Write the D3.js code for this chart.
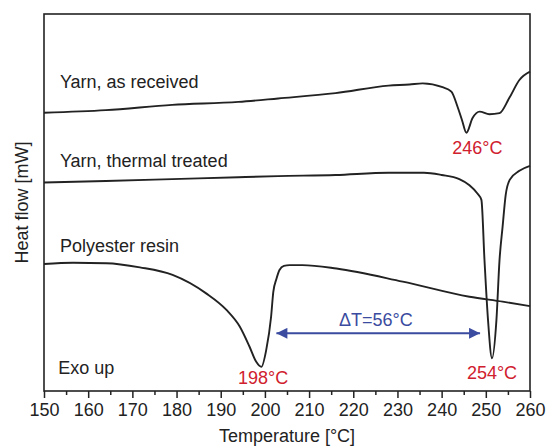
<!DOCTYPE html>
<html>
<head>
<meta charset="utf-8">
<script src="https://cdn.jsdelivr.net/npm/d3@7"></script>
<style>
  body { margin: 0; background: #fff; }
  svg text { font-family: "Liberation Sans", Arial, Helvetica, sans-serif; }
</style>
</head>
<body>
<svg id="chart" width="547" height="448"></svg>
<script>
// ---- data (heat flow in arbitrary offset units) ----
const tempReceived = [150, 164, 179, 194, 203, 216, 228, 232.7, 235.7, 240.2, 242.2, 243.6, 244.6, 245.6, 247, 248.6, 250.8, 253.1, 255.3, 257.6, 260];
const flowReceived = [73.8, 74.5, 75.9, 76.7, 77.6, 79.0, 81.0, 81.3, 81.6, 80.6, 79.4, 75.4, 71.9, 68.5, 72.4, 74.1, 73.4, 73.7, 77.7, 82.5, 84.7];

const tempTreated = [150, 164, 179, 194, 203, 216, 228, 236, 240, 244, 246.3, 248.1, 249, 249.7, 250.5, 251.4, 252.4, 253.1, 253.8, 254.5, 255.4, 257.6, 260];
const flowTreated = [55.3, 55.7, 56.2, 56.7, 57.0, 57.3, 57.9, 57.9, 57.3, 56.2, 54.6, 52.4, 50.7, 34.7, 18.8, 8.7, 18.8, 34.7, 43.6, 52.0, 56.0, 58.4, 59.7];

const tempResin = [150, 156.6, 164.1, 171.7, 179.1, 186.7, 191.3, 194.3, 196.5, 198, 199.2, 200.3, 201.4, 201.9, 202.6, 203.3, 204.3, 205.6, 208.5, 216.2, 231.2, 246.3, 253.8, 260];
const flowResin = [33.7, 34.0, 33.9, 32.8, 30.8, 25.9, 21.5, 17.1, 11.8, 7.8, 6.4, 10.9, 19.7, 26.3, 29.7, 32.1, 33.2, 33.4, 33.4, 32.5, 29.0, 25.0, 23.7, 22.5];

const xTicks = [150, 160, 170, 180, 190, 200, 210, 220, 230, 240, 250, 260];
const xMinorTicks = [155, 165, 175, 185, 195, 205, 215, 225, 235, 245, 255];

const seriesNames = ["Yarn, as received", "Yarn, thermal treated", "Polyester resin", "Exo up"];
const seriesNameAnchors = [[153.6, 80.3], [153.6, 59.5], [153.6, 36.9], [153.2, 4.4]];

const peakLabels = ["246°C", "198°C", "254°C"];
const peakAnchors = [[248.1, 62.8], [199.6, 1.8], [251.4, 3.1]];

const deltaLabel = "ΔT=56°C";
const deltaAnchor = [225.1, 17.2];
const deltaArrow = [202.6, 248.7, 15.3]; // from T, to T, level

// ---- layout ----
const margin = { left: 44, right: 530, top: 14, bottom: 391 };
const fontsize = 18;
const ink = "#222";
const red = "#d0202e";
const blue = "#3a4ba0";

const svg = d3.select("#chart");

const xScale = d3.scaleLinear().domain([150, 260]).range([margin.left, margin.right]);
const yScale = d3.scaleLinear().domain([0, 100]).range([margin.bottom, margin.top]);

// minor ticks
svg.append("g")
  .attr("transform", `translate(0,${margin.bottom})`)
  .call(d3.axisBottom(xScale).tickValues(xMinorTicks).tickSize(4).tickFormat(""))
  .call(g => g.select(".domain").remove())
  .selectAll("line").attr("stroke", ink).attr("stroke-width", 1.5);

// major ticks + labels
const xAxisG = svg.append("g")
  .attr("transform", `translate(0,${margin.bottom})`)
  .call(d3.axisBottom(xScale).tickValues(xTicks).tickSize(7).tickPadding(5).tickFormat(d3.format("d")));
xAxisG.select(".domain").remove();
xAxisG.selectAll("line").attr("stroke", ink).attr("stroke-width", 1.5);
xAxisG.selectAll("text")
  .attr("fill", ink)
  .style("font-size", fontsize + "px")
  .style("font-family", "'Liberation Sans', Arial, sans-serif");

// frame
svg.append("rect")
  .attr("x", margin.left).attr("y", margin.top)
  .attr("width", margin.right - margin.left).attr("height", margin.bottom - margin.top)
  .attr("fill", "none").attr("stroke", ink).attr("stroke-width", 1.6);

// curves
const line = d3.line()
  .x(d => xScale(d[0]))
  .y(d => yScale(d[1]))
  .curve(d3.curveMonotoneX);

const curves = [
  d3.zip(tempReceived, flowReceived),
  d3.zip(tempTreated, flowTreated),
  d3.zip(tempResin, flowResin)
];

svg.append("g").selectAll("path")
  .data(curves)
  .enter().append("path")
  .attr("d", line)
  .attr("fill", "none")
  .attr("stroke", ink)
  .attr("stroke-width", 1.9)
  .attr("stroke-linejoin", "round");

// series names
svg.append("g").selectAll("text")
  .data(seriesNames)
  .enter().append("text")
  .attr("x", (d, i) => xScale(seriesNameAnchors[i][0]))
  .attr("y", (d, i) => yScale(seriesNameAnchors[i][1]))
  .attr("fill", ink)
  .style("font-size", fontsize + "px")
  .text(d => d);

// peak temperatures
svg.append("g").selectAll("text")
  .data(peakLabels)
  .enter().append("text")
  .attr("x", (d, i) => xScale(peakAnchors[i][0]))
  .attr("y", (d, i) => yScale(peakAnchors[i][1]))
  .attr("text-anchor", "middle")
  .attr("fill", red)
  .style("font-size", fontsize + "px")
  .text(d => d);

// delta T arrow
svg.append("defs").append("marker")
  .attr("id", "head")
  .attr("viewBox", "0 0 10 10")
  .attr("refX", 10).attr("refY", 5)
  .attr("markerWidth", 17).attr("markerHeight", 11)
  .attr("markerUnits", "userSpaceOnUse")
  .attr("orient", "auto-start-reverse")
  .append("path")
  .attr("d", "M0,0 L10,5 L0,10 Z")
  .attr("fill", blue);

svg.append("line")
  .attr("x1", xScale(deltaArrow[0])).attr("x2", xScale(deltaArrow[1]))
  .attr("y1", yScale(deltaArrow[2])).attr("y2", yScale(deltaArrow[2]))
  .attr("stroke", blue).attr("stroke-width", 2)
  .attr("marker-start", "url(#head)")
  .attr("marker-end", "url(#head)");

svg.append("text")
  .attr("x", xScale(deltaAnchor[0]))
  .attr("y", yScale(deltaAnchor[1]))
  .attr("text-anchor", "middle")
  .attr("fill", blue)
  .style("font-size", fontsize + "px")
  .text(deltaLabel);

// axis titles
svg.append("text")
  .attr("x", (margin.left + margin.right) / 2)
  .attr("y", 442)
  .attr("text-anchor", "middle")
  .attr("fill", ink)
  .style("font-size", fontsize + "px")
  .text("Temperature [°C]");

svg.append("text")
  .attr("transform", `translate(28,${(margin.top + margin.bottom) / 2}) rotate(-90)`)
  .attr("text-anchor", "middle")
  .attr("fill", ink)
  .style("font-size", fontsize + "px")
  .text("Heat flow [mW]");
</script>
</body>
</html>
